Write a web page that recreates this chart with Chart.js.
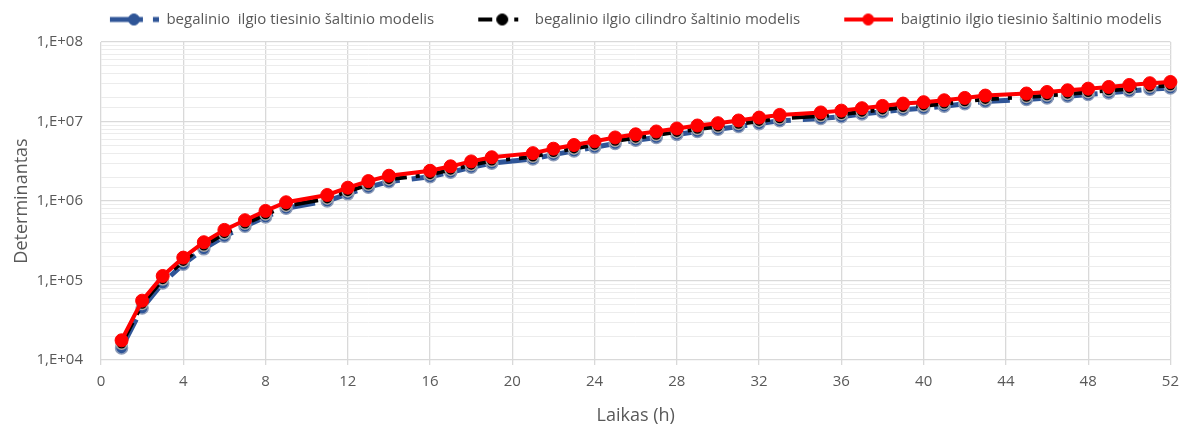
<!DOCTYPE html>
<html lang="lt">
<head>
    <meta charset="UTF-8">
    <title>Determinantas</title>
    <script src="https://cdn.jsdelivr.net/npm/chart.js"></script>
    <style>
        body { margin: 0; background: #ffffff; }
        #wrap { width: 1187px; height: 435px; position: relative; }
    </style>
</head>
<body>
<div id="wrap"><canvas id="chart"></canvas></div>
<script>
    // laikas (h)
    const hours = [1, 2, 3, 4, 5, 6, 7, 8, 9, 11, 12, 13, 14, 16, 17, 18, 19, 21, 22, 23, 24, 25, 26, 27, 28, 29, 30, 31, 32, 33,
        35, 36, 37, 38, 39, 40, 41, 42, 43, 45, 46, 47, 48, 49, 50, 51, 52];

    const infiniteLine = [14200, 45000, 93000, 160000, 250000, 360000, 480000, 630000, 810000, 1000000, 1230000, 1490000, 1750000,
        2020000, 2300000, 2650000, 2990000, 3380000, 3830000, 4260000, 4750000, 5300000, 5800000, 6300000, 6880000, 7500000,
        8000000, 8650000, 9400000, 10200000, 10900000, 11500000, 12400000, 13200000, 14100000, 14700000, 15600000, 16700000,
        17800000, 18900000, 19800000, 20800000, 21800000, 22900000, 24200000, 25500000, 26400000];

    const infiniteCylinder = [16000, 50500, 103000, 175000, 273000, 390000, 516000, 675000, 868000, 1070000, 1320000, 1600000, 1870000,
        2160000, 2460000, 2840000, 3200000, 3600000, 4100000, 4550000, 5080000, 5670000, 6210000, 6740000, 7350000, 8020000,
        8570000, 9270000, 10100000, 10900000, 11700000, 12300000, 13200000, 14100000, 15100000, 15800000, 16700000, 17800000,
        19100000, 20300000, 21200000, 22200000, 23300000, 24500000, 25900000, 27300000, 28300000];

    const finiteLine = [17700, 55800, 114000, 194000, 303000, 433000, 573000, 750000, 964000, 1190000, 1470000, 1780000, 2080000,
        2400000, 2730000, 3150000, 3550000, 4000000, 4550000, 5060000, 5640000, 6300000, 6900000, 7490000, 8170000, 8910000,
        9520000, 10300000, 11200000, 12100000, 13000000, 13700000, 14700000, 15700000, 16800000, 17500000, 18500000, 19800000,
        21200000, 22500000, 23500000, 24700000, 25900000, 27200000, 28800000, 30300000, 31400000];

    const seriesNames = [
        'begalinio  ilgio tiesinio šaltinio modelis',
        'begalinio ilgio cilindro šaltinio modelis',
        'baigtinio ilgio tiesinio šaltinio modelis'
    ];

    const yTickLabels = ['1,E+04', '1,E+05', '1,E+06', '1,E+07', '1,E+08'];

    const FONT = "'Open Sans', sans-serif";
    const LEG_GAP = 34;
    const LEG_W = LEG_GAP + 49;

    // legendos simbolis: linija su tasku per viduri
    function legendSymbol(color, dash, width, fill, border) {
        const c = document.createElement('canvas');
        c.width = LEG_W;
        c.height = 14;
        const g = c.getContext('2d');
        g.strokeStyle = color;
        g.lineWidth = width;
        g.setLineDash(dash);
        g.beginPath();
        g.moveTo(LEG_GAP, 7);
        g.lineTo(LEG_W, 7);
        g.stroke();
        g.setLineDash([]);
        g.beginPath();
        g.arc(LEG_GAP + 24, 7, 5.5, 0, Math.PI * 2);
        g.fillStyle = fill;
        g.fill();
        g.lineWidth = 1;
        g.strokeStyle = border;
        g.stroke();
        return c;
    }

    const legendSymbols = [
        legendSymbol('#2F5597', [33, 10, 6, 20], 5, '#2F5597', '#2F5597'),
        legendSymbol('#000000', [14, 22, 4, 20], 4, '#000000', '#000000'),
        legendSymbol('#FF0000', [], 4, '#FF0000', '#FF0000')
    ];

    const toPoints = vals => hours.map((h, i) => ({ x: h, y: vals[i] }));

    const isDecade = v => Math.abs(Math.log10(v) - Math.round(Math.log10(v))) < 1e-9;

    const legendShift = {
        id: 'legendShift',
        afterLayout(chart) {
            const lg = chart.legend, ca = chart.chartArea;
            const d = (ca.left + ca.right) / 2 - LEG_GAP / 2 - (lg.left + lg.right) / 2;
            lg.left += d;
            lg.right += d;
            lg.top -= 5;
            lg.bottom -= 5;
        }
    };

    new Chart(document.getElementById('chart'), {
        type: 'line',
        data: {
            datasets: [{
                label: seriesNames[0],
                data: toPoints(infiniteLine),
                borderColor: '#2F5597',
                borderWidth: 5,
                borderDash: [32, 12],
                pointRadius: 6,
                pointBackgroundColor: '#2F5597',
                pointBorderColor: '#8c9bb8',
                pointBorderWidth: 1.5,
                order: 3,
                clip: false
            }, {
                label: seriesNames[1],
                data: toPoints(infiniteCylinder),
                borderColor: '#000000',
                borderWidth: 4,
                borderDash: [24, 9, 4, 9],
                pointRadius: 5.5,
                pointBackgroundColor: '#000000',
                pointBorderColor: '#a6a6a6',
                pointBorderWidth: 1.5,
                order: 2,
                clip: false
            }, {
                label: seriesNames[2],
                data: toPoints(finiteLine),
                borderColor: '#FF0000',
                borderWidth: 4,
                pointRadius: 6.5,
                pointBackgroundColor: '#FF0000',
                pointBorderColor: '#FF0000',
                pointBorderWidth: 1,
                order: 1,
                clip: false
            }]
        },
        options: {
            responsive: true,
            maintainAspectRatio: false,
            animation: false,
            layout: { padding: { left: 0, right: 14, top: 7, bottom: 0 } },
            scales: {
                x: {
                    type: 'linear',
                    min: 0,
                    max: 52,
                    ticks: { stepSize: 4, color: '#595959', font: { family: FONT, size: 15 }, padding: 8 },
                    grid: { color: '#d9d9d9', lineWidth: 1.3, tickLength: 5 },
                    border: { display: false },
                    title: { display: true, text: 'Laikas (h)', color: '#595959', font: { family: FONT, size: 18 }, padding: { bottom: 8 } },
                    afterFit(scale) { scale.height = 75; }
                },
                y: {
                    type: 'logarithmic',
                    min: 1e4,
                    max: 1e8,
                    ticks: {
                        autoSkip: false,
                        color: '#595959',
                        font: { family: FONT, size: 15 },
                        padding: 18,
                        callback: v => isDecade(v) ? yTickLabels[Math.round(Math.log10(v)) - 4] : ''
                    },
                    grid: {
                        drawTicks: false,
                        color: c => isDecade(c.tick.value) ? '#d9d9d9' : '#ececec',
                        lineWidth: c => isDecade(c.tick.value) ? 1.3 : 1
                    },
                    border: { display: false },
                    title: { display: true, text: 'Determinantas', color: '#595959', font: { family: FONT, size: 18 }, padding: { top: 11 } },
                    afterFit(scale) { scale.width = 101; }
                }
            },
            plugins: {
                tooltip: { enabled: false },
                legend: {
                    position: 'top',
                    labels: {
                        usePointStyle: true,
                        pointStyleWidth: LEG_W,
                        padding: 10,
                        color: '#595959',
                        font: { family: FONT, size: 15 },
                        generateLabels(chart) {
                            const items = Chart.defaults.plugins.legend.labels.generateLabels(chart);
                            items.sort((a, b) => a.datasetIndex - b.datasetIndex);
                            items.forEach(it => { it.pointStyle = legendSymbols[it.datasetIndex]; });
                            return items;
                        }
                    }
                }
            }
        },
        plugins: [legendShift]
    });
</script>
</body>
</html>
